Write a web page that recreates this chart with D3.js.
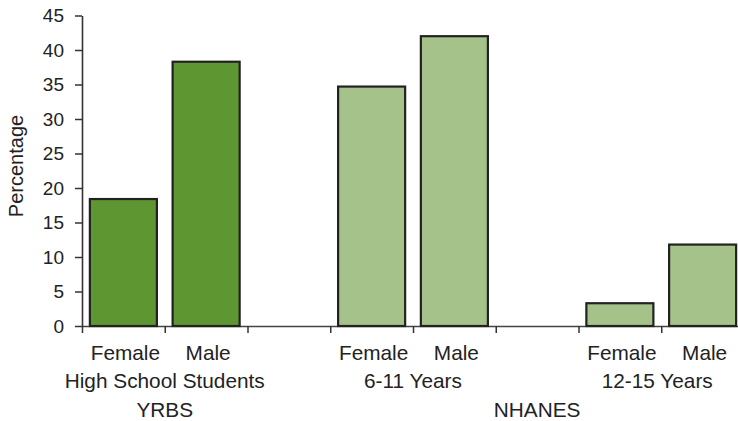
<!DOCTYPE html>
<html><head><meta charset="utf-8">
<script src="https://cdn.jsdelivr.net/npm/d3@7"></script>
<style>body{margin:0;background:#fff}svg{display:block}</style>
</head><body><svg id="c" width="738" height="421"></svg>
<script>
// slots along the x axis (gap slots have no bar)
const slots = ["HS-F","HS-M","gap1","611-F","611-M","gap2","1215-F","1215-M"];
const barSlots = ["HS-F","HS-M","611-F","611-M","1215-F","1215-M"];
const sexLabels = ["Female","Male","Female","Male","Female","Male"];
const values = [18.4, 38.3, 34.7, 42.0, 3.3, 11.8];
const barSurvey = ["YRBS","YRBS","NHANES","NHANES","NHANES","NHANES"];
const groupLabels = ["High School Students","6-11 Years","12-15 Years"];
const groupSlots = [["HS-F","HS-M"],["611-F","611-M"],["1215-F","1215-M"]];
const surveyLabels = ["YRBS","NHANES"];
const surveySlots = [["HS-F","HS-M"],["611-F","1215-M"]];
const yTicks = [0,5,10,15,20,25,30,35,40,45];
const colors = {YRBS:"#5e9732", NHANES:"#a5c28b"};

const svg = d3.select("#c");
const x0 = 82, x1 = 744, y0 = 326, yTop = 15.5;
const x = d3.scaleBand().domain(slots).range([x0,x1]).paddingInner(0.19).paddingOuter(0.095);
const xl = d3.scaleLinear().domain([0, slots.length]).range([x0,x1]);
const y = d3.scaleLinear().domain([0,45]).range([y0,yTop]);
const font = "'Liberation Sans', Arial, Helvetica, sans-serif";

// x axis
const gx = svg.append("g").attr("transform",`translate(0,${y0})`)
  .call(d3.axisBottom(xl).tickValues(d3.range(0, slots.length+1)).tickFormat("").tickSize(7).tickSizeOuter(0));
gx.select(".domain").attr("stroke","#444").attr("stroke-width",1.5);
gx.selectAll(".tick line").attr("stroke","#333").attr("stroke-width",1.5);

// bars
const bars = barSlots.map((s,i)=>({slot:s, v:values[i], survey:barSurvey[i], sex:sexLabels[i]}));
svg.append("g").selectAll("rect").data(bars).join("rect")
  .attr("x", d=>x(d.slot)).attr("width", x.bandwidth())
  .attr("y", d=>y(d.v)).attr("height", d=>y0 - y(d.v))
  .attr("fill", d=>colors[d.survey]).attr("stroke","#222").attr("stroke-width",2.2);

// y axis
const gy = svg.append("g").attr("transform",`translate(${x0},0)`)
  .call(d3.axisLeft(y).tickValues(yTicks).tickSize(7).tickPadding(11).tickSizeOuter(0));
gy.select(".domain").attr("stroke","#333").attr("stroke-width",1.6);
gy.selectAll(".tick line").attr("stroke","#333").attr("stroke-width",1.5);
gy.selectAll(".tick text").attr("font-family",font).attr("font-size",19).attr("fill","#222");

// y title
svg.append("text").attr("transform",`translate(23,166) rotate(-90)`)
  .attr("text-anchor","middle").attr("font-family",font).attr("font-size",20).attr("fill","#222")
  .text("Percentage");

// x labels
const lab = svg.append("g").attr("font-family",font).attr("font-size",20.8).attr("fill","#222").attr("text-anchor","middle");
lab.selectAll("text.sex").data(bars).join("text").attr("class","sex")
  .attr("x", d=>x(d.slot)+x.bandwidth()/2+2).attr("y",360).text(d=>d.sex);
lab.selectAll("text.grp").data(groupLabels).join("text").attr("class","grp")
  .attr("x",(d,i)=>(x(groupSlots[i][0]) + x(groupSlots[i][1]) + x.bandwidth())/2 - (i===2?4:0)).attr("y",388).text(d=>d);
lab.selectAll("text.srv").data(surveyLabels).join("text").attr("class","srv")
  .attr("x",(d,i)=>(x(surveySlots[i][0]) + x(surveySlots[i][1]) + x.bandwidth())/2).attr("y",417).text(d=>d);
</script></body></html>
